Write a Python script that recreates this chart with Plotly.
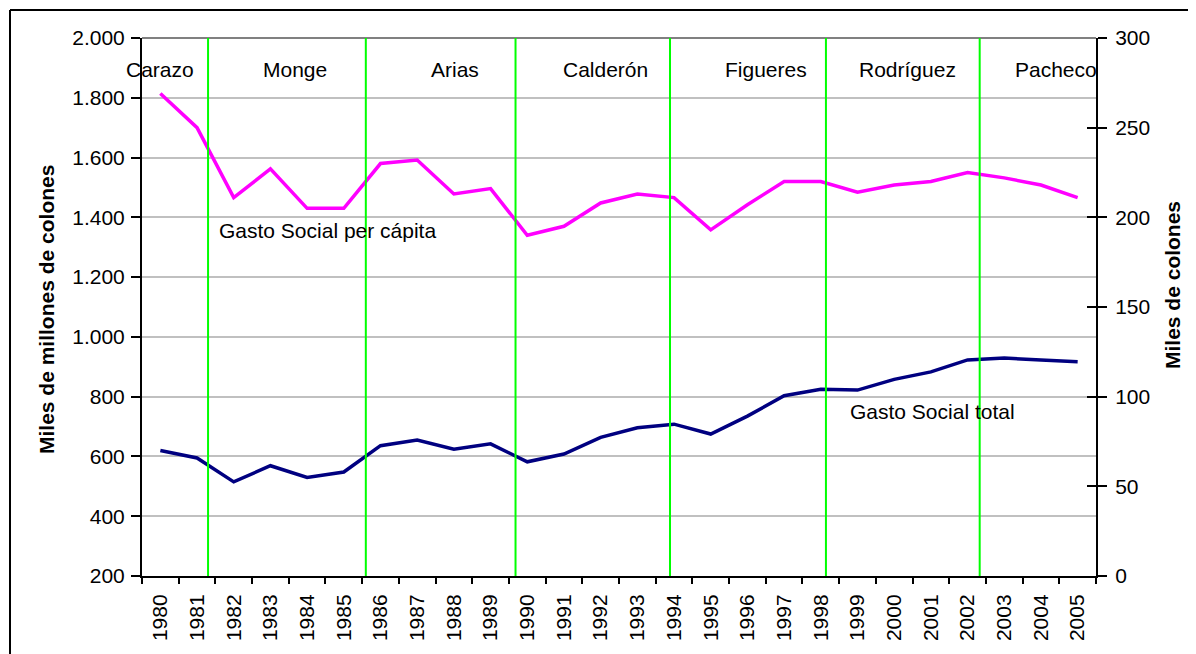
import plotly.graph_objects as go

# ---------------- data ----------------
years = list(range(1980, 2006))
gasto_total = [620, 595, 515, 569, 530, 548, 636, 655, 624, 642, 582, 608, 664, 696,
               708, 675, 735, 803, 825, 822, 858, 883, 923, 929, 923, 917]
gasto_per_capita = [269, 250, 211, 227, 205, 205, 230, 232, 213, 216, 190, 195, 208, 213,
                    211, 193, 207, 220, 220, 214, 218, 220, 225, 222, 218, 211]
presidents = ["Carazo", "Monge", "Arias", "Calderón", "Figueres", "Rodríguez", "Pacheco"]
cambios_gobierno = [1981.30, 1985.60, 1989.68, 1993.89, 1998.14, 2002.33]
left_ticks = list(range(200, 2001, 200))
right_ticks = list(range(0, 301, 50))

# ---------------- geometry helpers (page pixel coords) ----------------
W, H = 1196, 654
OFF = 8  # page body margin
L, R, T, B = 142, 1096, 38, 576


def px(x):
    return (x - L) / (R - L)


def py(y):
    return (B - y) / (B - T)


FONT = "Liberation Sans, Arial, sans-serif"
FS = 21

fig = go.Figure()
fig.add_trace(go.Scatter(x=years, y=gasto_total, mode="lines",
                         line=dict(color="#000080", width=3.5), yaxis="y",
                         name="Gasto Social total", showlegend=False))
fig.add_trace(go.Scatter(x=years, y=gasto_per_capita, mode="lines",
                         line=dict(color="#FF00FF", width=3.5), yaxis="y2",
                         name="Gasto Social per cápita", showlegend=False))

shapes = []
for c in cambios_gobierno:
    shapes.append(dict(type="line", xref="x", yref="paper", x0=c, x1=c, y0=0, y1=1,
                       line=dict(color="#00FF00", width=2), layer="above"))
# plot-area top border
shapes.append(dict(type="line", xref="paper", yref="paper", x0=0, x1=1, y0=1, y1=1,
                   line=dict(color="#808080", width=2), layer="below"))
# outer frame
shapes.append(dict(type="line", xref="paper", yref="paper", x0=px(10), x1=px(1210),
                   y0=py(10), y1=py(10), line=dict(color="black", width=2)))
shapes.append(dict(type="line", xref="paper", yref="paper", x0=px(10), x1=px(10),
                   y0=py(10), y1=py(670), line=dict(color="black", width=2)))

pres_x = [124, 261, 429, 561, 723, 857, 1013]
annotations = []
for name, xl in zip(presidents, pres_x):
    annotations.append(dict(text=name, x=px(xl), y=py(69), xref="paper", yref="paper",
                            xanchor="left", yanchor="middle", showarrow=False,
                            font=dict(size=FS, color="black", family=FONT)))
annotations.append(dict(text="Gasto Social per cápita", x=px(217), y=py(230), xref="paper",
                        yref="paper", xanchor="left", yanchor="middle", showarrow=False,
                        font=dict(size=FS, color="black", family=FONT)))
annotations.append(dict(text="Gasto Social total", x=px(848), y=py(411), xref="paper",
                        yref="paper", xanchor="left", yanchor="middle", showarrow=False,
                        font=dict(size=FS, color="black", family=FONT)))
annotations.append(dict(text="<b>Miles de millones de colones</b>", x=px(46), y=py(310),
                        xref="paper", yref="paper", xanchor="center", yanchor="middle",
                        textangle=-90, showarrow=False,
                        font=dict(size=FS, color="black", family=FONT)))
annotations.append(dict(text="<b>Miles de colones</b>", x=px(1172), y=py(285),
                        xref="paper", yref="paper", xanchor="center", yanchor="middle",
                        textangle=-90, showarrow=False,
                        font=dict(size=FS, color="black", family=FONT)))

fig.update_layout(
    width=W, height=H,
    margin=dict(l=L - OFF, r=W - (R - OFF), t=T - OFF, b=H - (B - OFF), pad=0),
    paper_bgcolor="white", plot_bgcolor="white",
    separators=",.",
    font=dict(family=FONT, size=FS, color="black"),
    showlegend=False,
    xaxis=dict(range=[1979.5, 2005.5], tickmode="array", tickvals=years,
               ticktext=[str(y) for y in years], tickangle=-90,
               ticks="outside", ticklen=6, tickcolor="rgba(0,0,0,0)",
               ticklabelstandoff=2,
               minor=dict(tickmode="linear", tick0=1979.5, dtick=1, ticks="outside",
                          ticklen=6, tickwidth=2, tickcolor="black", showgrid=False),
               showline=True, linecolor="black", linewidth=2, showgrid=False,
               zeroline=False, tickfont=dict(size=FS)),
    yaxis=dict(range=[200, 2000], tickmode="array", tickvals=left_ticks,
               tickformat=",d", ticks="outside", ticklen=9, tickwidth=2,
               tickcolor="black", showline=True, linecolor="black", linewidth=2,
               showgrid=True, gridcolor="#C0C0C0", gridwidth=1.5, zeroline=False,
               ticklabelstandoff=2, tickfont=dict(size=FS)),
    yaxis2=dict(range=[0, 300], tickmode="array", tickvals=right_ticks,
                overlaying="y", side="right", anchor="x",
                ticks="outside", ticklen=9, tickwidth=2, tickcolor="black",
                showline=True, linecolor="black", linewidth=2, showgrid=False,
                zeroline=False, ticklabelstandoff=4, tickfont=dict(size=FS)),
    yaxis3=dict(range=[0, 300], tickmode="array", tickvals=right_ticks,
                overlaying="y", side="right", anchor="x",
                ticks="inside", ticklen=9, tickwidth=2, tickcolor="black",
                showticklabels=False, showline=False, showgrid=False, zeroline=False),
    shapes=shapes,
    annotations=annotations,
)
# invisible trace to activate yaxis3 (cross ticks on right axis)
fig.add_trace(go.Scatter(x=[years[0]], y=[0], yaxis="y3", mode="markers",
                         marker=dict(opacity=0), hoverinfo="skip", showlegend=False))

fig.write_html("out.html")
